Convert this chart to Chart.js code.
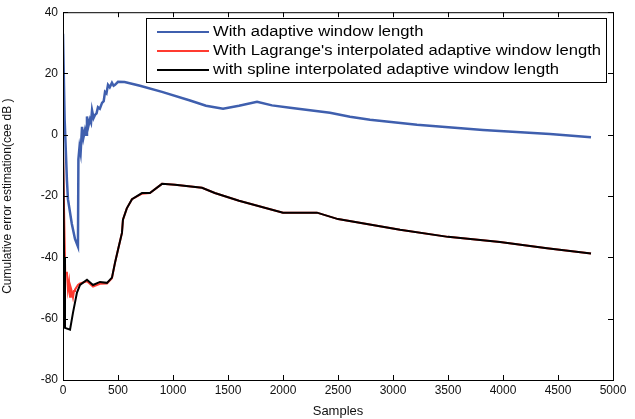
<!DOCTYPE html>
<html>
<head>
<meta charset="utf-8">
<script src="https://cdn.jsdelivr.net/npm/chart.js@4"></script>
<style>
  html, body { margin: 0; padding: 0; background: #fff; }
  #wrap { width: 635px; height: 419px; }
</style>
</head>
<body>
<div id="wrap"><canvas id="ceeChart" width="635" height="419"></canvas></div>
<script>
// Series values (samples -> cee dB)
const adaptiveX = [0, 15, 36, 45, 80, 109, 136, 140, 150, 160, 173, 185, 200, 210, 218, 232, 245, 255, 264, 278, 291, 305, 318, 335, 355, 370, 382, 395, 409, 425, 445, 460, 473, 500, 560, 700, 900, 1155, 1300, 1455, 1600, 1764, 1900, 2064, 2427, 2609, 2791, 3218, 3818, 4427, 4800];
const adaptiveY = [33, 5, -15, -21, -29, -34, -36.5, -8, -4, -6, 2.6, -1, 1.6, 0, 6, 3, 5, 4, 8, 5.5, 6.5, 7, 9, 8.5, 10.4, 11, 14, 13.5, 16.3, 15.5, 17, 16, 16.3, 17.3, 17.2, 16, 14, 11.2, 9.5, 8.5, 9.5, 10.8, 9.6, 8.8, 7.2, 5.9, 4.9, 3.3, 1.6, 0.3, -0.8];

const lagrangeX = [0, 20, 36, 45, 55, 64, 72, 80, 91, 100, 109, 136, 155, 218, 273, 336, 400, 445, 473, 500, 536, 545, 580, 627, 718, 790, 900, 1018, 1264, 1380, 1600, 2000, 2309, 2500, 3064, 3500, 3973, 4400, 4800];
const lagrangeY = [-5, -45, -45, -50.5, -48, -52.8, -50, -51, -53, -51, -50.5, -49, -48.5, -47.8, -49.5, -48.6, -48.5, -46.8, -41.7, -37.5, -32, -27.7, -24, -21, -19.2, -19, -16, -16.3, -17.3, -19, -21.5, -25.4, -25.4, -27.5, -31, -33.3, -35, -37, -38.7];

const splineX = [0, 10, 18, 64, 91, 127, 155, 218, 273, 336, 400, 445, 473, 500, 536, 545, 580, 627, 718, 790, 900, 1018, 1264, 1380, 1600, 2000, 2309, 2500, 3064, 3500, 3973, 4400, 4800];
const splineY = [-2, -40, -63, -63.6, -58, -51.5, -49, -47.3, -49, -48, -48.3, -46.6, -41.7, -37.5, -32, -27.7, -24, -21, -19, -19, -16, -16.3, -17.3, -19, -21.5, -25.4, -25.4, -27.5, -31, -33.3, -35, -37, -38.7];

const seriesNames = [
  "With adaptive window length",
  "With Lagrange's interpolated adaptive window length",
  "with spline interpolated adaptive window length"
];
const seriesColors = ["#3f5fae", "#ff3b30", "#000000"];

const xTicks = [0, 500, 1000, 1500, 2000, 2500, 3000, 3500, 4000, 4500, 5000];
const yTicks = [-80, -60, -40, -20, 0, 20, 40];

function toPoints(xs, ys) {
  return xs.map((x, i) => ({ x: x, y: ys[i] }));
}

const FONT = "'Liberation Sans', Arial, sans-serif";

// Frame with inward ticks on all four sides (matlab style) + boxed legend
const framePlugin = {
  id: "frame",
  afterDraw(chart) {
    const { ctx, chartArea: a, scales } = chart;
    ctx.save();
    ctx.strokeStyle = "#000";
    ctx.lineWidth = 1;
    ctx.strokeRect(a.left + 0.5, a.top + 0.5, a.right - a.left, a.bottom - a.top);
    ctx.beginPath();
    xTicks.forEach(v => {
      const px = Math.round(scales.x.getPixelForValue(v)) + 0.5;
      ctx.moveTo(px, a.bottom); ctx.lineTo(px, a.bottom - 5);
      ctx.moveTo(px, a.top); ctx.lineTo(px, a.top + 5);
    });
    yTicks.forEach(v => {
      const py = Math.round(scales.y.getPixelForValue(v)) + 0.5;
      ctx.moveTo(a.left, py); ctx.lineTo(a.left + 5, py);
      ctx.moveTo(a.right, py); ctx.lineTo(a.right - 5, py);
    });
    ctx.stroke();

    // legend box
    const bx = 146, by = 18, bw = 460, bh = 64;
    ctx.fillStyle = "#fff";
    ctx.fillRect(bx, by, bw, bh);
    ctx.strokeRect(bx + 0.5, by + 0.5, bw, bh);
    ctx.font = "14px " + FONT;
    ctx.textBaseline = "middle";
    // stretch text so the longest entry fills the box like the original
    const widest = Math.max(...seriesNames.map(n => ctx.measureText(n).width));
    const stretch = 388 / widest;
    seriesNames.forEach((name, i) => {
      const y = by + 14 + i * 19;
      ctx.strokeStyle = seriesColors[i];
      ctx.lineWidth = 2;
      ctx.beginPath();
      ctx.moveTo(157, y); ctx.lineTo(209, y);
      ctx.stroke();
      ctx.fillStyle = "#000";
      ctx.save();
      ctx.translate(213, y);
      ctx.scale(stretch, 1);
      ctx.fillText(name, 0, 0);
      ctx.restore();
    });
    ctx.restore();
  }
};

const ctx = document.getElementById("ceeChart").getContext("2d");
new Chart(ctx, {
  type: "line",
  data: {
    datasets: [
      { label: seriesNames[0], data: toPoints(adaptiveX, adaptiveY), borderColor: seriesColors[0], borderWidth: 2.5, order: 2 },
      { label: seriesNames[1], data: toPoints(lagrangeX, lagrangeY), borderColor: seriesColors[1], borderWidth: 2, order: 1 },
      { label: seriesNames[2], data: toPoints(splineX, splineY), borderColor: seriesColors[2], borderWidth: 2, order: 0 }
    ]
  },
  options: {
    responsive: false,
    animation: false,
    parsing: false,
    elements: { point: { radius: 0 }, line: { tension: 0 } },
    layout: { padding: { top: 12, right: 22, left: 0, bottom: 0 } },
    plugins: { legend: { display: false }, tooltip: { enabled: false } },
    scales: {
      x: {
        type: "linear",
        min: 0, max: 5000,
        afterBuildTicks: s => { s.ticks = xTicks.map(v => ({ value: v })); },
        afterFit: s => { s.height = 39; },
        grid: { display: false, drawTicks: false },
        border: { display: false },
        ticks: { color: "#111", font: { family: FONT, size: 12 }, padding: 3, maxRotation: 0, autoSkip: false, callback: v => String(v) },
        title: { display: true, text: "Samples", color: "#111", font: { family: FONT, size: 13 }, padding: { top: 1, bottom: 0 } }
      },
      y: {
        min: -80, max: 40,
        afterBuildTicks: s => { s.ticks = yTicks.map(v => ({ value: v })); },
        afterFit: s => { s.width = 63; },
        grid: { display: false, drawTicks: false },
        border: { display: false },
        ticks: { color: "#111", font: { family: FONT, size: 12 }, padding: 5, autoSkip: false, callback: v => String(v) },
        title: { display: true, text: "Cumulative error estimation(cee dB )", color: "#111", font: { family: FONT, size: 12 }, padding: { top: 0, bottom: 4 } }
      }
    }
  },
  plugins: [framePlugin]
});
</script>
</body>
</html>
